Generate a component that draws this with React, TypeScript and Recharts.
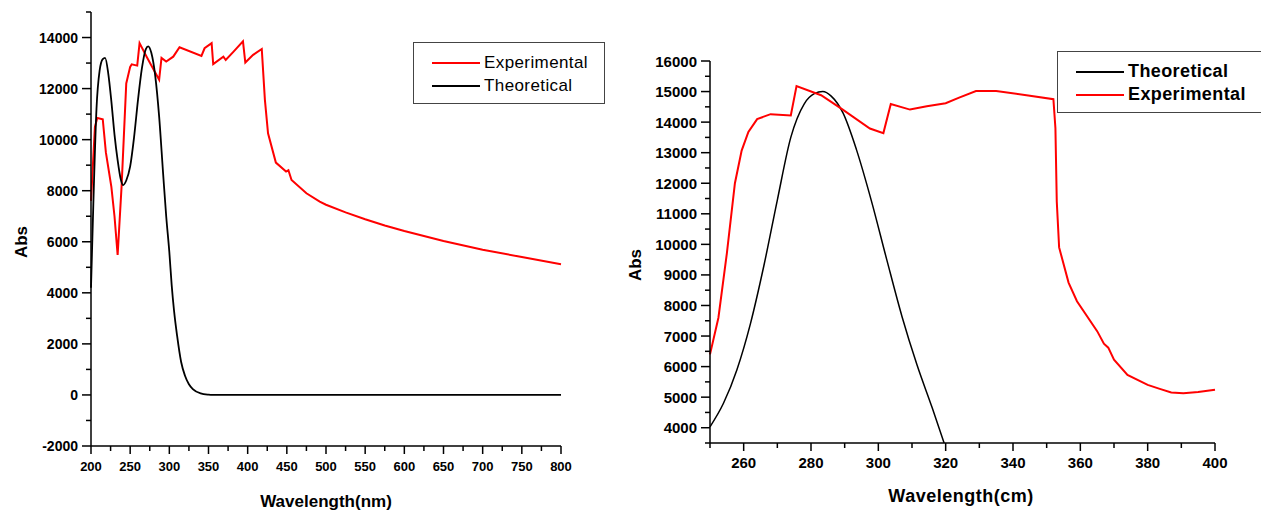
import { LineChart, Line, XAxis, YAxis, Legend } from "recharts"

// Left panel: 200-800 nm
const leftExpX = [200, 205, 208, 215, 219, 226, 230, 234, 239, 245, 250, 252, 259, 262, 271, 287, 290, 296, 305, 313, 341, 345, 354, 356, 369, 372, 382, 394, 397, 407, 418, 422, 426, 436, 449, 452, 456, 475, 492, 500, 525, 550, 575, 600, 650, 700, 750, 800]
const leftExpY = [7600, 10500, 10850, 10800, 9500, 8150, 7000, 5480, 8150, 12200, 12850, 12950, 12900, 13780, 13250, 12350, 13200, 13060, 13250, 13620, 13280, 13580, 13780, 12960, 13250, 13120, 13450, 13850, 13020, 13320, 13550, 11560, 10250, 9100, 8750, 8800, 8420, 7900, 7570, 7450, 7150, 6880, 6640, 6420, 6030, 5690, 5400, 5120]
const leftTheoX = [200, 203, 207, 211, 215, 218, 222, 226, 230, 234, 238, 241, 245, 250, 255, 260, 265, 270, 273, 277, 282, 287, 292, 296, 300, 303, 306, 310, 315, 320, 325, 330, 340, 350, 355, 400, 500, 600, 700, 800]
const leftTheoY = [4200, 7500, 11200, 12700, 13150, 13200, 12600, 11500, 10200, 9200, 8450, 8220, 8400, 8950, 10100, 11560, 12800, 13550, 13650, 13400, 12500, 10900, 8700, 7000, 5600, 4300, 3300, 2300, 1300, 750, 420, 230, 60, 10, 0, 0, 0, 0, 0, 0]

// Right panel: 250-400
const rightExpX = [250, 252.5, 255, 257.4, 259.4, 261.4, 264, 268, 274, 275.7, 283, 289, 297.5, 301.5, 303.7, 309.4, 314.4, 320, 324, 329, 335, 344, 352, 352.6, 353, 353.7, 356.5, 359, 365, 367, 368.3, 370, 374, 380, 383.6, 387, 390.6, 395, 400]
const rightExpY = [6400, 7600, 9700, 12000, 13070, 13680, 14100, 14260, 14220, 15180, 14880, 14440, 13790, 13640, 14590, 14410, 14520, 14620, 14800, 15020, 15020, 14880, 14750, 13800, 11400, 9900, 8750, 8140, 7160, 6750, 6620, 6230, 5730, 5400, 5270, 5150, 5130, 5170, 5240]
const rightTheoX = [250, 254, 258, 262, 266, 270, 274, 278, 281, 283.5, 286, 289.5, 293.5, 298, 302.5, 307, 311.5, 316, 320]
const rightTheoY = [4030, 4800, 5900, 7400, 9300, 11450, 13500, 14600, 14930, 15000, 14850, 14300, 13100, 11400, 9500, 7650, 6050, 4650, 3350]

const range = (a: number, b: number, step: number) => {
  const out: number[] = []
  for (let v = a; v <= b; v += step) out.push(v)
  return out
}

const leftXTicks = range(200, 800, 25)
const leftYTicks = range(-2000, 15000, 1000)
const rightXTicks = range(250, 400, 10)
const rightYTicks = range(3500, 16000, 500)

const zip = (xs: number[], ys: number[]) => xs.map((x, i) => ({ x, y: ys[i] }))

const FONT = "'Liberation Sans', Arial, sans-serif"

const YTick = (props: any) => {
  const { x, y, payload, every, fontSize } = props
  const major = payload.value % every === 0
  return (
    <g>
      <line x1={x} x2={x - (major ? 9 : 5)} y1={y} y2={y} stroke="#000" strokeWidth={1.5} />
      {major && (
        <text x={x - 13} y={y} textAnchor="end" dominantBaseline="central" fontFamily={FONT} fontWeight="bold" fontSize={fontSize} fill="#000">
          {payload.value}
        </text>
      )}
    </g>
  )
}

const XTick = (props: any) => {
  const { x, y, payload, every, fontSize, dy } = props
  const major = payload.value % every === 0
  return (
    <g>
      <line x1={x} x2={x} y1={y} y2={y + (major ? 8 : 5)} stroke="#000" strokeWidth={1.5} />
      {major && (
        <text x={x} y={y + dy} textAnchor="middle" dominantBaseline="central" fontFamily={FONT} fontWeight="bold" fontSize={fontSize} fill="#000">
          {payload.value}
        </text>
      )}
    </g>
  )
}

const LegendBox = ({ items, bold, width, fontSize }: any) => (
  <div
    style={{
      border: "1px solid #444",
      width,
      height: 62,
      boxSizing: "border-box",
      padding: "8px 0 0 18px",
      background: "#fff",
      fontFamily: FONT,
      fontWeight: bold ? "bold" : "normal",
      fontSize,
      letterSpacing: 0.4,
    }}
  >
    {items.map((it: any) => (
      <div key={it.name} style={{ display: "flex", alignItems: "center", height: 23 }}>
        <svg width={48} height={4} style={{ marginRight: 4 }}>
          <line x1={0} x2={48} y1={2} y2={2} stroke={it.color} strokeWidth={2} />
        </svg>
        <span>{it.name}</span>
      </div>
    ))}
  </div>
)

export default function App() {
  return (
    <div style={{ position: "absolute", left: 0, top: 0, width: 1261, height: 513, overflow: "hidden", background: "#fff" }}>
      <div style={{ position: "absolute", left: 0, top: 0 }}>
        <LineChart width={620} height={513} margin={{ top: 12, right: 59, bottom: 7, left: 0 }}>
          <XAxis
            type="number"
            dataKey="x"
            domain={[200, 800]}
            ticks={leftXTicks}
            interval={0}
            tickSize={0}
            tickMargin={0}
            height={60}
            axisLine={{ stroke: "#000", strokeWidth: 1.5 }}
            tickLine={false}
            tick={(p: any) => <XTick {...p} every={50} fontSize={13} dy={20} />}
            label={() => (
              <text x={326} y={501} textAnchor="middle" dominantBaseline="central" fontFamily={FONT} fontWeight="bold" fontSize={17}>
                Wavelength(nm)
              </text>
            )}
          />
          <YAxis
            type="number"
            domain={[-2000, 15000]}
            ticks={leftYTicks}
            interval={0}
            tickSize={0}
            tickMargin={0}
            width={91}
            axisLine={{ stroke: "#000", strokeWidth: 1.5 }}
            tickLine={false}
            tick={(p: any) => <YTick {...p} every={2000} fontSize={14} />}
            label={() => (
              <text x={21} y={242} transform="rotate(-90 21 242)" textAnchor="middle" dominantBaseline="central" fontFamily={FONT} fontWeight="bold" fontSize={17}>
                Abs
              </text>
            )}
          />
          <Legend
            layout="vertical"
            align="center"
            verticalAlign="middle"
            wrapperStyle={{ left: 413, top: 42, width: 192 }}
            content={() => (
              <LegendBox width={192} fontSize={17} bold={false} items={[{ name: "Experimental", color: "#ff0000" }, { name: "Theoretical", color: "#000" }]} />
            )}
          />
          <Line data={zip(leftExpX, leftExpY)} dataKey="y" name="Experimental" type="linear" stroke="#ff0000" strokeWidth={2} dot={false} isAnimationActive={false} />
          <Line data={zip(leftTheoX, leftTheoY)} dataKey="y" name="Theoretical" type="monotone" stroke="#000" strokeWidth={1.8} dot={false} isAnimationActive={false} />
        </LineChart>
      </div>
      <div style={{ position: "absolute", left: 620, top: 0 }}>
        <LineChart width={641} height={513} margin={{ top: 61, right: 46, bottom: 10, left: 0 }}>
          <XAxis
            type="number"
            dataKey="x"
            domain={[250, 400]}
            ticks={rightXTicks}
            interval={0}
            tickSize={0}
            tickMargin={0}
            height={60}
            axisLine={{ stroke: "#000", strokeWidth: 1.5 }}
            tickLine={false}
            tick={(p: any) => <XTick {...p} every={20} fontSize={15} dy={19} />}
            label={() => (
              <text x={341} y={496} textAnchor="middle" dominantBaseline="central" fontFamily={FONT} fontWeight="bold" fontSize={18} letterSpacing={0.5}>
                Wavelength(cm)
              </text>
            )}
          />
          <YAxis
            type="number"
            domain={[3500, 16000]}
            allowDataOverflow
            ticks={rightYTicks}
            interval={0}
            tickSize={0}
            tickMargin={0}
            width={90}
            axisLine={{ stroke: "#000", strokeWidth: 1.5 }}
            tickLine={false}
            tick={(p: any) => <YTick {...p} every={1000} fontSize={15} />}
            label={() => (
              <text x={15} y={265} transform="rotate(-90 15 265)" textAnchor="middle" dominantBaseline="central" fontFamily={FONT} fontWeight="bold" fontSize={17}>
                Abs
              </text>
            )}
          />
          <Legend
            layout="vertical"
            align="center"
            verticalAlign="middle"
            wrapperStyle={{ left: 437, top: 51, width: 215 }}
            content={() => (
              <LegendBox width={215} fontSize={18} bold items={[{ name: "Theoretical", color: "#000" }, { name: "Experimental", color: "#ff0000" }]} />
            )}
          />
          <Line data={zip(rightTheoX, rightTheoY)} dataKey="y" name="Theoretical" type="monotone" stroke="#000" strokeWidth={1.5} dot={false} isAnimationActive={false} />
          <Line data={zip(rightExpX, rightExpY)} dataKey="y" name="Experimental" type="linear" stroke="#ff0000" strokeWidth={2} dot={false} isAnimationActive={false} />
        </LineChart>
      </div>
    </div>
  )
}
